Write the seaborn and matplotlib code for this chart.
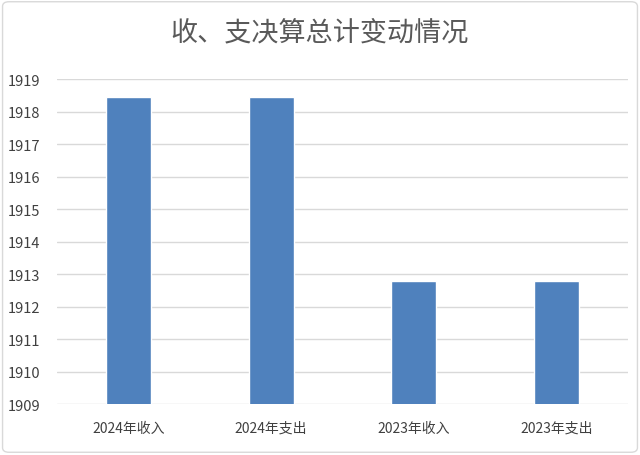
import matplotlib
matplotlib.use("Agg")
import matplotlib.pyplot as plt
import seaborn as sns
import pandas as pd
from matplotlib.patches import FancyBboxPatch

categories = ["2024年收入", "2024年支出", "2023年收入", "2023年支出"]
values = [1918.45, 1918.45, 1912.78, 1912.78]
yticks = list(range(1909, 1920))

sns.set_theme(style="white")
plt.rcParams['font.family'] = ['Noto Sans CJK SC', 'DejaVu Sans']

df = pd.DataFrame({"cat": categories, "val": values})

fig = plt.figure(figsize=(6.4, 4.56), dpi=100)
ax = fig.add_axes([57 / 640, 51 / 456, 571 / 640, 325 / 456])

for y in yticks:
    ax.axhline(y, color="#d9d9d9", lw=1, zorder=0)

sns.barplot(data=df, x="cat", y="val", color="#4F81BD", saturation=1,
            width=0.315, ax=ax, zorder=2)
ax.set_ylim(1909, 1919)
ax.set_yticks(yticks)
ax.set_yticklabels([str(t) for t in yticks], fontsize=10.5, color="#404040")
ax.tick_params(axis='x', labelsize=10, colors="#404040", length=0, pad=12)
ax.tick_params(axis='y', length=0, pad=12)
ax.set_xlabel("")
ax.set_ylabel("")
for s in ax.spines.values():
    s.set_visible(False)

fig.text(0.5, 1 - 33 / 456, "收、支决算总计变动情况", ha="center", va="center",
         fontsize=19.5, color="#595959")

border = FancyBboxPatch((0.004, 0.006), 0.992, 0.988, boxstyle="round,pad=0,rounding_size=0.01",
                        transform=fig.transFigure, fill=False, ec="#d9d9d9", lw=1)
fig.patches.append(border)

fig.savefig("out.png", dpi=100)
